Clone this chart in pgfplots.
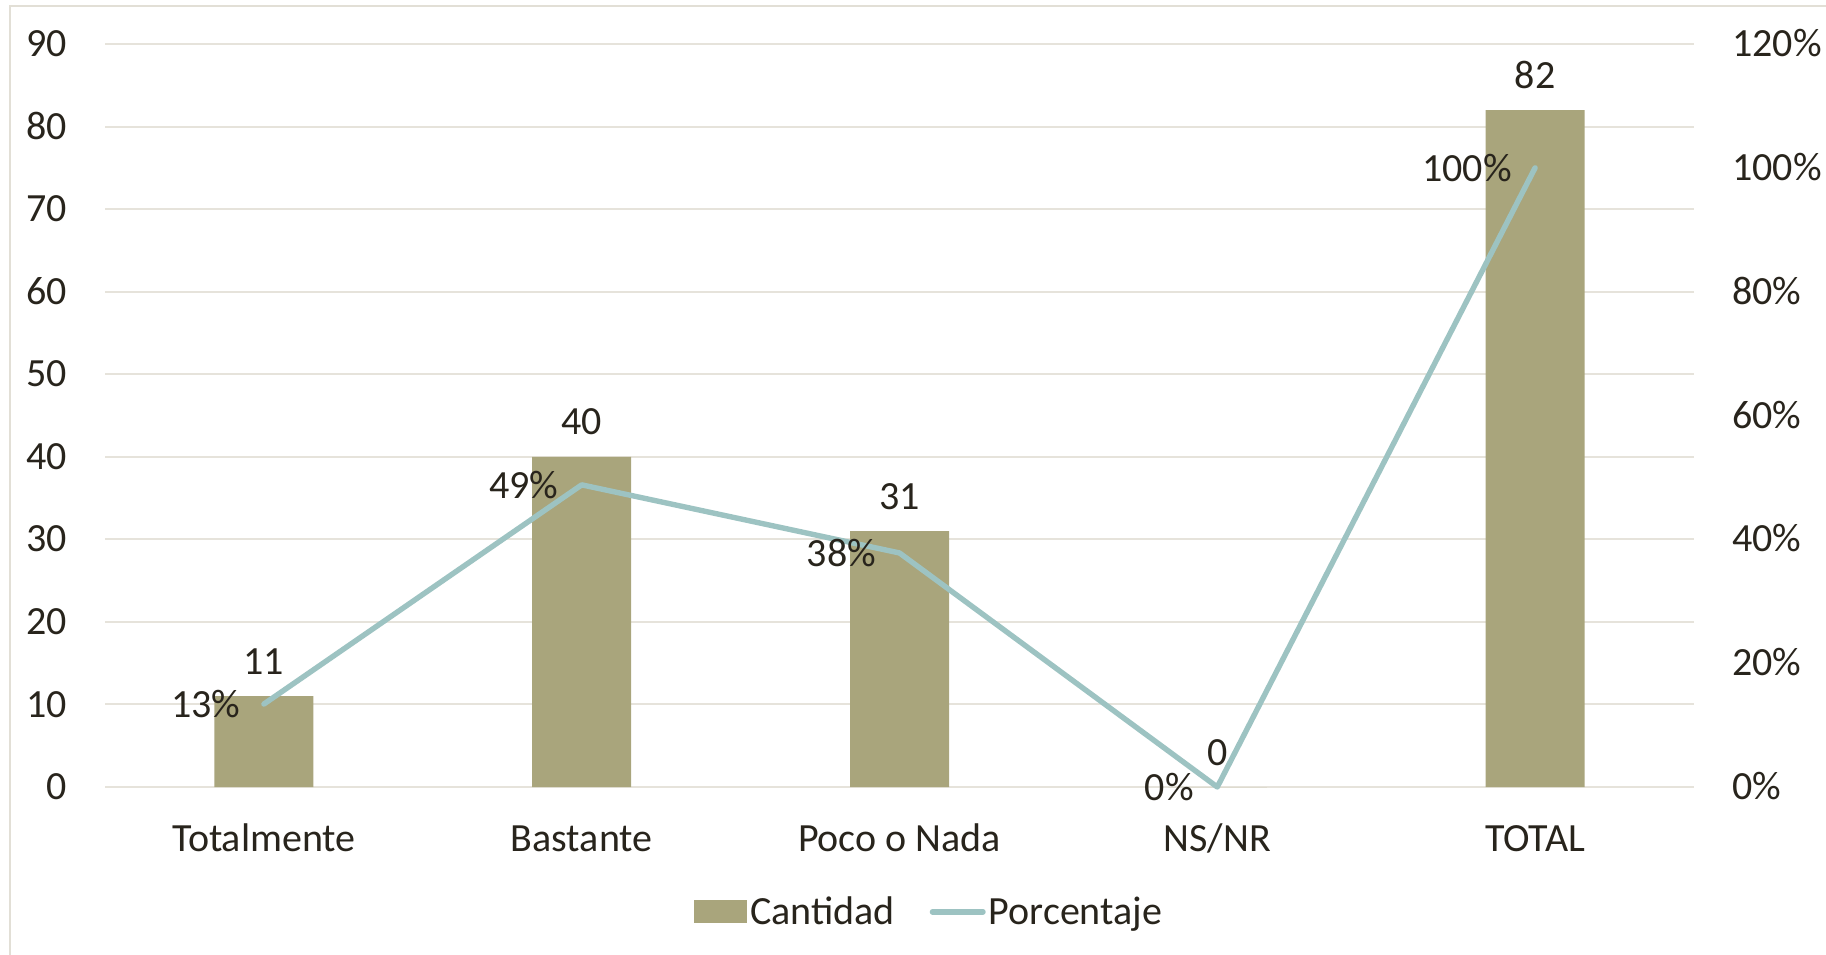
\documentclass[border=0pt]{standalone}
\usepackage{pgfplots}
\pgfplotsset{compat=1.18}
\usepackage{fontspec}
\setmainfont{Carlito}
\definecolor{barc}{RGB}{169,165,124}
\definecolor{linec}{RGB}{157,195,194}
\definecolor{txt}{RGB}{40,36,28}
\definecolor{gridc}{RGB}{230,227,219}
\definecolor{framec}{RGB}{226,223,214}
\begin{document}
\begin{tikzpicture}[font=\fontsize{20}{24}\selectfont]
\path[use as bounding box] (0,0) rectangle (913pt,477pt);
\draw[framec, line width=1pt] (4.75pt,-1pt) -- (4.75pt,474pt) -- (914pt,474pt);
\pgfplotsset{
  base/.style={
    scale only axis, width=794.5pt, height=371.5pt,
    at={(52.5pt,83.5pt)}, anchor=south west,
    xmin=-0.5, xmax=4.5, axis line style={draw=none},
    major tick length=0pt, clip=false,
    tick label style={font=\fontsize{20}{24}\selectfont, text=txt, inner sep=0pt},
    /pgf/number format/assume math mode=true,
  }
}
\begin{axis}[base, ymin=0, ymax=90, ytick={0,10,20,30,40,50,60,70,80,90},
  ymajorgrids, grid style={gridc, line width=1pt},
  xtick={0,1,2,3,4}, xticklabels={Totalmente,Bastante,Poco o Nada,NS/NR,TOTAL},
  xticklabel style={anchor=base, yshift=-32pt},
  yticklabel style={anchor=base east, xshift=-18.7pt, yshift=-6.3pt},
]
\addplot[ybar, bar width=49.5pt, fill=barc, draw=none,
  nodes near coords,
  every node near coord/.append style={font=\fontsize{20}{24}\selectfont, text=txt, anchor=base, inner sep=0pt, yshift=11pt}]
  coordinates {(0,11) (1,40) (2,31) (3,0) (4,82)};
\end{axis}
\begin{axis}[base, ymin=0, ymax=1.2, ytick={0,0.2,0.4,0.6,0.8,1,1.2},
  yticklabels={0\%,20\%,40\%,60\%,80\%,100\%,120\%},
  yticklabel pos=right, xtick=\empty,
  yticklabel style={anchor=base west, xshift=19pt, yshift=-6.3pt},
  legend style={at={(0.519,-0.168)}, anchor=center, draw=none, fill=none,
    legend columns=2, font=\fontsize{20}{24}\selectfont, text=txt,
    nodes={inner sep=1.5pt},
    /tikz/every even column/.append style={column sep=16pt}},
]
\addlegendimage{legend image code/.code={\fill[barc] (0pt,-5.5pt) rectangle (26pt,5.5pt);}}
\addlegendentry{Cantidad}
\addplot[linec, line width=2.7pt, line cap=round, line join=round, mark=none,
  legend image code/.code={\draw[linec, line width=2.7pt, line cap=round] (1.35pt,0pt) -- (26.65pt,0pt);},
  nodes near coords, point meta=explicit symbolic,
  every node near coord/.append style={font=\fontsize{20}{24}\selectfont, text=txt, anchor=east, inner sep=0pt, xshift=-10.4pt}]
  coordinates {(0,0.134) [13\%] (1,0.488) [49\%] (2,0.378) [38\%] (3,0) [0\%] (4,1.0) [100\%]};
\addlegendentry{Porcentaje}
\end{axis}
\end{tikzpicture}
\end{document}
